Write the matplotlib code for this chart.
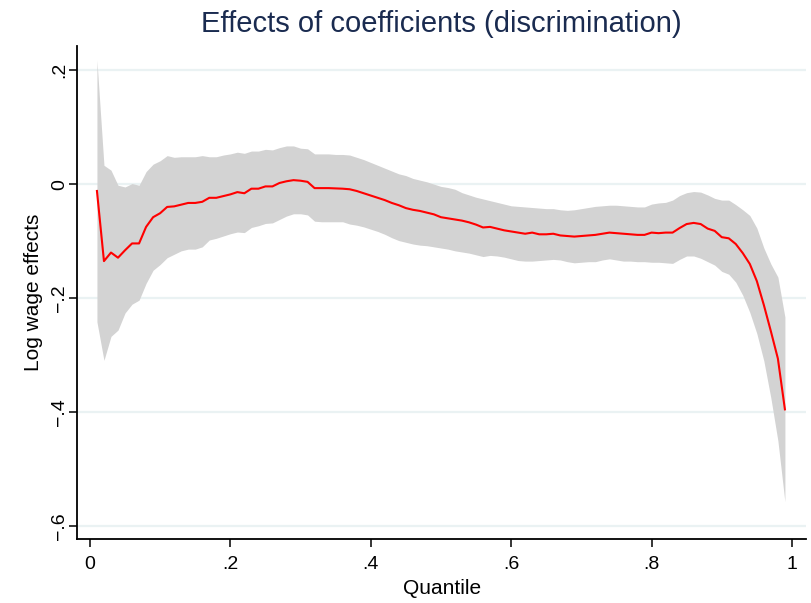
import numpy as np
import matplotlib
matplotlib.use("Agg")
import matplotlib.pyplot as plt

plt.rcParams['font.family'] = ['Liberation Sans', 'DejaVu Sans']

# quantiles .01 ... .99
quantile = np.round(np.arange(1, 100) / 100, 2)

effect = [-0.012, -0.135, -0.120, -0.129, -0.116, -0.104, -0.104, -0.075, -0.058, -0.051,
          -0.040, -0.039, -0.036, -0.033, -0.033, -0.031, -0.024, -0.024, -0.021, -0.018,
          -0.014, -0.016, -0.008, -0.008, -0.004, -0.004, 0.002, 0.005, 0.007, 0.006,
          0.004, -0.007, -0.007, -0.007, -0.0075, -0.008, -0.009, -0.012, -0.016, -0.020,
          -0.024, -0.028, -0.033, -0.037, -0.042, -0.045, -0.047, -0.050, -0.053, -0.058,
          -0.060, -0.062, -0.064, -0.067, -0.071, -0.076, -0.075, -0.078, -0.081, -0.083,
          -0.085, -0.087, -0.085, -0.088, -0.088, -0.087, -0.090, -0.091, -0.092, -0.091,
          -0.090, -0.089, -0.087, -0.085, -0.086, -0.087, -0.088, -0.089, -0.089, -0.085,
          -0.086, -0.085, -0.085, -0.077, -0.070, -0.068, -0.070, -0.078, -0.082, -0.093,
          -0.095, -0.105, -0.121, -0.140, -0.170, -0.212, -0.258, -0.306, -0.395]

ci_upper = [0.2175, 0.033, 0.0245, -0.002, -0.005, 0.001, -0.002, 0.022, 0.035, 0.041,
            0.050, 0.047, 0.048, 0.048, 0.048, 0.050, 0.048, 0.048, 0.051, 0.053,
            0.056, 0.054, 0.058, 0.058, 0.061, 0.060, 0.064, 0.067, 0.067, 0.063,
            0.062, 0.053, 0.053, 0.053, 0.052, 0.052, 0.051, 0.047, 0.043, 0.038,
            0.033, 0.028, 0.023, 0.018, 0.015, 0.010, 0.007, 0.004, 0.000, -0.004,
            -0.006, -0.009, -0.015, -0.019, -0.023, -0.026, -0.029, -0.032, -0.035, -0.038,
            -0.039, -0.040, -0.041, -0.042, -0.043, -0.043, -0.045, -0.046, -0.045, -0.043,
            -0.041, -0.039, -0.038, -0.037, -0.037, -0.038, -0.039, -0.040, -0.040, -0.035,
            -0.033, -0.032, -0.028, -0.020, -0.015, -0.013, -0.014, -0.019, -0.025, -0.028,
            -0.028, -0.036, -0.045, -0.055, -0.077, -0.112, -0.140, -0.163, -0.233]

ci_lower = [-0.2415, -0.309, -0.267, -0.256, -0.226, -0.2105, -0.2035, -0.174, -0.151, -0.141,
            -0.129, -0.123, -0.117, -0.114, -0.114, -0.110, -0.098, -0.095, -0.091, -0.087,
            -0.084, -0.085, -0.076, -0.073, -0.069, -0.068, -0.062, -0.056, -0.052, -0.052,
            -0.054, -0.065, -0.066, -0.066, -0.066, -0.066, -0.070, -0.072, -0.075, -0.079,
            -0.083, -0.088, -0.094, -0.099, -0.102, -0.105, -0.107, -0.108, -0.110, -0.112,
            -0.114, -0.117, -0.119, -0.121, -0.124, -0.127, -0.125, -0.126, -0.128, -0.131,
            -0.134, -0.135, -0.135, -0.134, -0.133, -0.132, -0.133, -0.136, -0.138, -0.137,
            -0.136, -0.136, -0.133, -0.131, -0.133, -0.135, -0.135, -0.136, -0.136, -0.137,
            -0.137, -0.138, -0.139, -0.132, -0.126, -0.126, -0.130, -0.136, -0.142, -0.153,
            -0.158, -0.172, -0.195, -0.225, -0.262, -0.310, -0.375, -0.450, -0.557]

xticks = [0, 0.2, 0.4, 0.6, 0.8, 1]
xticklabels = ['0', '.2', '.4', '.6', '.8', '1']
yticks = [-0.6, -0.4, -0.2, 0, 0.2]
yticklabels = ['\u2212.6', '\u2212.4', '\u2212.2', '0', '.2']

fig = plt.figure(figsize=(8.11, 6.03), dpi=100)
ax = fig.add_axes([0.0953, 0.1055, 0.8985, 0.818])

ax.fill_between(quantile, ci_lower, ci_upper, color='#d3d3d3', linewidth=0, zorder=2)
ax.plot(quantile, effect, color='#ff0000', linewidth=1.5, zorder=3)

ax.set_xlim(-0.018, 1.020)
ax.set_ylim(-0.623, 0.242)
ax.set_xticks(xticks)
ax.set_xticklabels(xticklabels, fontsize=14)
ax.set_yticks(yticks)
ax.set_yticklabels(yticklabels, fontsize=14, rotation=90, va='center')

ax.grid(axis='y', color='#eaf2f3', linewidth=1.6, zorder=0)
ax.set_axisbelow(True)
for side in ['top', 'right']:
    ax.spines[side].set_visible(False)
for side in ['left', 'bottom']:
    ax.spines[side].set_linewidth(1.3)
ax.tick_params(direction='out', length=6, width=1.1)
ax.tick_params(axis='x', pad=6)
ax.tick_params(axis='y', pad=0.5)

ax.set_xlabel('Quantile', fontsize=15, labelpad=4)
ax.set_ylabel('Log wage effects', fontsize=15, labelpad=6)
ax.set_title('Effects of coefficients (discrimination)', fontsize=21,
             color='#1a2b50', pad=10, x=0.5)

fig.savefig('out.png', dpi=100)
